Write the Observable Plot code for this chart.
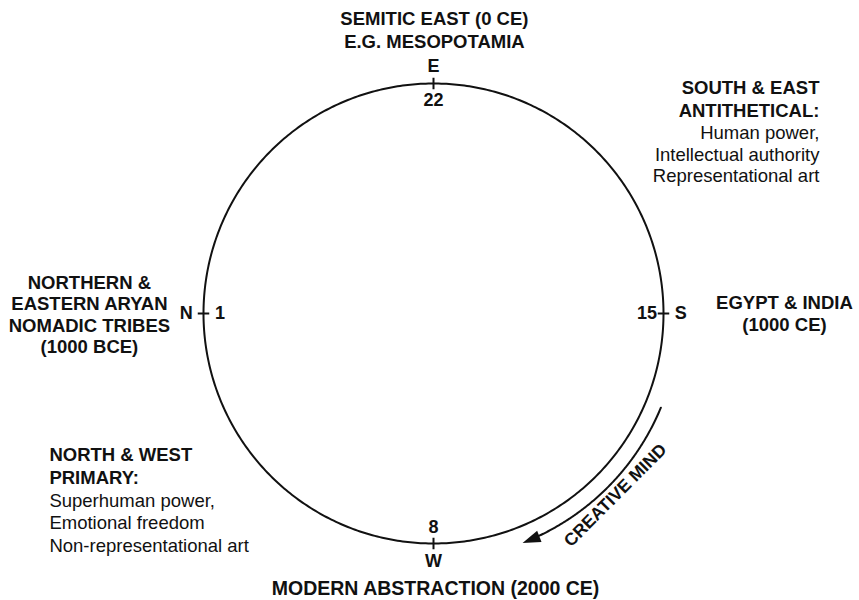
<!DOCTYPE html>
<html><head><meta charset="utf-8">
<script src="https://cdn.jsdelivr.net/npm/d3@7"></script>
<script src="https://cdn.jsdelivr.net/npm/@observablehq/plot@0.6"></script>
<style>html,body{margin:0;padding:0;background:#fff;} #chart svg{display:block;}</style>
</head><body><div id="chart"></div>
<script>
// ---- data ----
const phaseCount = 28;
const cardinalPhases = [1, 8, 15, 22];
const cardinalLetters = ["N", "W", "S", "E"];
const regionLabels = [
  "NORTHERN &\nEASTERN ARYAN\nNOMADIC TRIBES\n(1000 BCE)",
  "MODERN ABSTRACTION (2000 CE)",
  "EGYPT & INDIA\n(1000 CE)",
  "SEMITIC EAST (0 CE)\nE.G. MESOPOTAMIA"
];
const primaryHeading = ["NORTH & WEST", "PRIMARY:"];
const primaryTraits = ["Superhuman power,", "Emotional freedom", "Non-representational art"];
const antitheticalHeading = ["SOUTH & EAST", "ANTITHETICAL:"];
const antitheticalTraits = ["Human power,", "Intellectual authority", "Representational art"];
const arrowLabel = "CREATIVE MIND";
const arrowPhases = [13.25, 9.65];   // start phase, tip phase
const arrowLabelPhase = 11.5;

// ---- geometry helpers (unit circle, y grows downward) ----
const degOf = p => 180 + (p - 1) * 360 / phaseCount;
const px = (p, r) => r * Math.cos(degOf(p) * Math.PI / 180);
const py = (p, r) => -r * Math.sin(degOf(p) * Math.PI / 180);
const screenDeg = p => -degOf(p);

const unit = 230, cx = 433, cy = 313, W = 859, H = 600;
const font = "'Liberation Sans', Arial, Helvetica, sans-serif";
const ink = "#111";

const ring = d3.range(0, phaseCount + 0.001, 0.05);
const arrowPath = d3.range(arrowPhases[0], arrowPhases[1] + 0.2, -0.02);
const arrowR = 1.07;

const bold = {fontWeight: "bold", fontSize: 18.5, fill: ink};
const chart = Plot.plot({
  width: W, height: H, margin: 0,
  style: {fontFamily: font, background: "#fff", overflow: "visible"},
  x: {domain: [-cx / unit, (W - cx) / unit], range: [0, W], axis: null},
  y: {domain: [-cy / unit, (H - cy) / unit], range: [0, H], axis: null},
  marks: [
    Plot.line(ring, {x: p => px(p, 1), y: p => py(p, 1), stroke: ink, strokeWidth: 2}),
    Plot.link(cardinalPhases, {
      x1: p => px(p, 0.975), y1: p => py(p, 0.975),
      x2: p => px(p, 1.025), y2: p => py(p, 1.025),
      stroke: ink, strokeWidth: 2
    }),
    Plot.text(cardinalPhases, {x: p => px(p, 1.075), y: p => py(p, 1.075),
      text: (p, i) => cardinalLetters[i], fontWeight: "bold", fontSize: 18, fill: ink}),
    Plot.text(cardinalPhases, {x: p => px(p, 0.928), y: p => py(p, 0.928),
      text: p => String(p), fontWeight: "bold", fontSize: 18, fill: ink}),
    // region labels
    Plot.text([regionLabels[0]], {x: -1.496, y: 0.002, text: d => d, lineHeight: 1.16, ...bold}),
    Plot.text([regionLabels[1]], {x: 0.009, y: 1.196, text: d => d, ...bold, fontSize: 19.5}),
    Plot.text([regionLabels[2]], {x: 1.526, y: -0.002, text: d => d, lineHeight: 1.16, ...bold}),
    Plot.text([regionLabels[3]], {x: 0.004, y: -1.235, text: d => d, lineHeight: 1.25, ...bold}),
    // primary / antithetical descriptions
    Plot.text([primaryHeading.join("\n")], {x: -1.670, y: 0.660, text: d => d, textAnchor: "start", lineHeight: 1.24, ...bold}),
    Plot.text([primaryTraits.join("\n")], {x: -1.670, y: 0.906, text: d => d, textAnchor: "start", lineHeight: 1.22, fontSize: 18.5, fill: ink}),
    Plot.text([antitheticalHeading.join("\n")], {x: 1.678, y: -0.935, text: d => d, textAnchor: "end", lineHeight: 1.2, ...bold}),
    Plot.text([antitheticalTraits.join("\n")], {x: 1.678, y: -0.695, text: d => d, textAnchor: "end", lineHeight: 1.17, fontSize: 18.5, fill: ink}),
    // creative mind arrow
    Plot.line(arrowPath, {x: p => px(p, arrowR), y: p => py(p, arrowR), stroke: ink, strokeWidth: 2}),
    Plot.vector([arrowPhases[1]], {x: p => px(p, arrowR), y: p => py(p, arrowR),
      rotate: p => screenDeg(p) + 180, length: 18, r: 6, shape: "spike", anchor: "end",
      fill: ink, stroke: "none"}),
    Plot.text([arrowLabelPhase], {x: p => px(p, 1.118), y: p => py(p, 1.118),
      rotate: p => screenDeg(p) - 90, text: () => arrowLabel, fontWeight: "bold", fontSize: 17.5, fill: ink})
  ]
});
document.getElementById("chart").appendChild(chart);
</script>
</body></html>
